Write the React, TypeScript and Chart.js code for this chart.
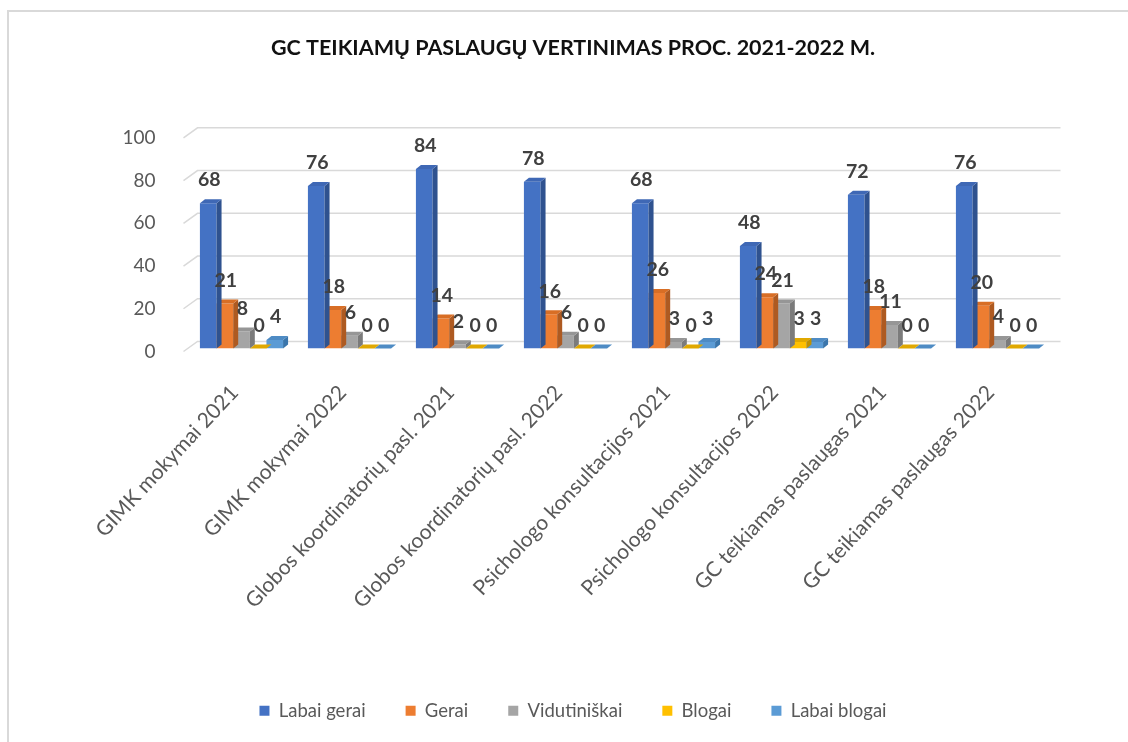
import React, { useEffect, useRef } from "react";
import { Chart, registerables } from "chart.js";

Chart.register(...registerables);

const categories = [
  "GIMK mokymai 2021",
  "GIMK mokymai 2022",
  "Globos koordinatorių pasl. 2021",
  "Globos koordinatorių pasl. 2022",
  "Psichologo konsultacijos 2021",
  "Psichologo konsultacijos 2022",
  "GC teikiamas paslaugas 2021",
  "GC teikiamas paslaugas 2022",
];

const labaiGerai = [68, 76, 84, 78, 68, 48, 72, 76];
const gerai = [21, 18, 14, 16, 26, 24, 18, 20];
const vidutiniskai = [8, 6, 2, 6, 3, 21, 11, 4];
const blogai = [0, 0, 0, 0, 0, 3, 0, 0];
const labaiBlogai = [4, 0, 0, 0, 3, 3, 0, 0];

const yTicks = [0, 20, 40, 60, 80, 100];

const seriesNames = ["Labai gerai", "Gerai", "Vidutiniškai", "Blogai", "Labai blogai"];
const seriesValues = [labaiGerai, gerai, vidutiniskai, blogai, labaiBlogai];
const frontColors = ["#4472C4", "#ED7D31", "#A5A5A5", "#FFC000", "#5B9BD5"];
const sideColors = ["#2F528F", "#AE5A21", "#7B7B7B", "#BF9000", "#3A75AB"];
const topColors = ["#3F68B5", "#D86E25", "#969696", "#E0A800", "#4E8BC4"];

const TITLE = "GC TEIKIAMŲ PASLAUGŲ VERTINIMAS PROC. 2021-2022 M.";
const FONT = "Lato, 'Open Sans', sans-serif";

const DX = 5;
const DY = -4;

const bar3d = {
  id: "bar3d",
  beforeDatasetsDraw(chart: any) {
    const { ctx, chartArea, scales } = chart;
    const y = scales.y;
    ctx.save();
    ctx.strokeStyle = "#D9D9D9";
    ctx.lineWidth = 1.5;
    yTicks.forEach((v) => {
      const yp = y.getPixelForValue(v);
      ctx.beginPath();
      ctx.moveTo(chartArea.left - 4, yp + 3);
      ctx.lineTo(chartArea.left + 10, yp - 7);
      ctx.lineTo(chartArea.right + 9, yp - 7);
      ctx.stroke();
    });
    ctx.restore();
  },
  afterDatasetDraw(chart: any, args: any) {
    const { ctx } = chart;
    const i = args.index;
    const meta = chart.getDatasetMeta(i);
    ctx.save();
    meta.data.forEach((bar: any) => {
      const w = bar.width;
      const l = bar.x - w / 2;
      const r = bar.x + w / 2;
      const t = bar.y;
      const b = bar.base;
      ctx.fillStyle = sideColors[i];
      ctx.beginPath();
      ctx.moveTo(r, t);
      ctx.lineTo(r + DX, t + DY);
      ctx.lineTo(r + DX, b + DY);
      ctx.lineTo(r, b);
      ctx.closePath();
      ctx.fill();
      ctx.fillStyle = topColors[i];
      ctx.beginPath();
      ctx.moveTo(l, t);
      ctx.lineTo(l + DX, t + DY);
      ctx.lineTo(r + DX, t + DY);
      ctx.lineTo(r, t);
      ctx.closePath();
      ctx.fill();
    });
    ctx.restore();
  },
  afterDatasetsDraw(chart: any) {
    const { ctx } = chart;
    ctx.save();
    ctx.font = `bold 19.5px ${FONT}`;
    ctx.fillStyle = "#404040";
    ctx.textAlign = "center";
    ctx.textBaseline = "middle";
    chart.data.datasets.forEach((ds: any, i: number) => {
      const meta = chart.getDatasetMeta(i);
      meta.data.forEach((bar: any, j: number) => {
        ctx.fillText(String(ds.data[j]), bar.x + 1, bar.y - 23);
      });
    });
    ctx.restore();
  },
};

export default function App() {
  const ref = useRef<HTMLCanvasElement>(null);
  useEffect(() => {
    if (!ref.current) return;
    const chart = new Chart(ref.current, {
      type: "bar",
      data: {
        labels: categories,
        datasets: seriesNames.map((name, i) => ({
          label: name,
          data: seriesValues[i],
          backgroundColor: frontColors[i],
          borderWidth: 0,
          categoryPercentage: 0.77,
          barPercentage: 1,
        })),
      },
      options: {
        responsive: false,
        animation: false,
        layout: { padding: { top: 0, bottom: 12, left: 94.5, right: 76.5 } },
        plugins: {
          title: {
            display: true,
            text: TITLE,
            color: "#111111",
            font: { family: FONT, size: 21.5, weight: "bold", lineHeight: 1.2 },
            padding: { top: 35, bottom: 74 },
          },
          legend: {
            position: "bottom",
            labels: {
              color: "#595959",
              font: { family: FONT, size: 18.5 },
              boxWidth: 10,
              boxHeight: 10,
              padding: 40,
            },
          },
          tooltip: { enabled: false },
        },
        scales: {
          x: {
            grid: { display: false },
            border: { display: false },
            ticks: {
              color: "#595959",
              font: { family: FONT, size: 21 },
              minRotation: 47,
              maxRotation: 47,
              padding: 24,
              labelOffset: -7,
              autoSkip: false,
            },
            afterFit: (s: any) => {
              s.height = 313;
            },
          },
          y: {
            min: 0,
            max: 100,
            grid: { display: false },
            border: { display: false },
            ticks: {
              stepSize: 20,
              color: "#595959",
              font: { family: FONT, size: 19 },
              padding: 24,
              labelOffset: 3,
            },
            afterFit: (s: any) => {
              s.width = 93;
            },
          },
        },
      },
      plugins: [bar3d],
    });
    return () => chart.destroy();
  }, []);
  return (
    <div style={{ position: "fixed", left: 0, top: 0, width: 1128, height: 742, background: "#fff" }}>
      <div
        style={{
          position: "absolute",
          left: 7,
          top: 10,
          width: 1200,
          height: 800,
          borderLeft: "2px solid #D9D9D9",
          borderTop: "2px solid #D9D9D9",
        }}
      />
      <canvas ref={ref} width={1128} height={742} style={{ position: "absolute", left: 0, top: 0 }} />
    </div>
  );
}
